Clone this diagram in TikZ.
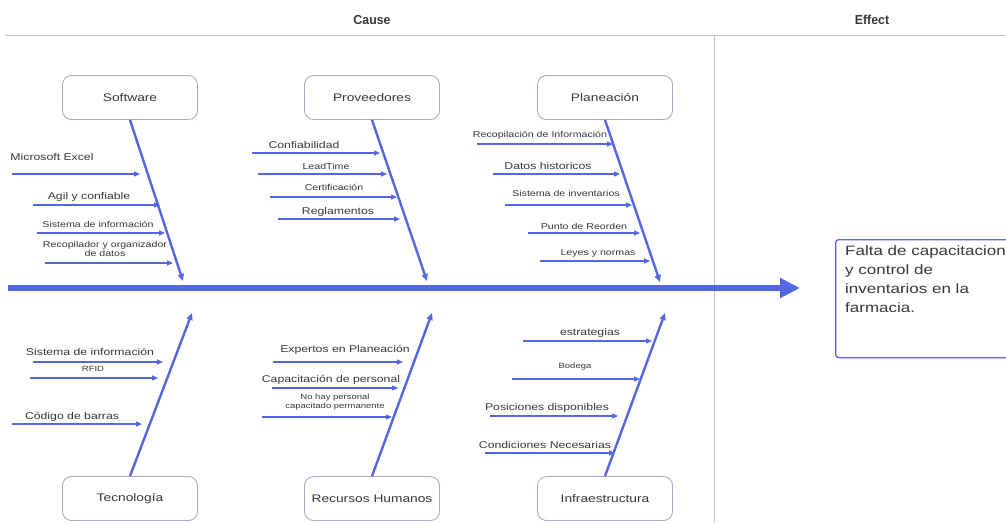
\documentclass[tikz,border=0pt]{standalone}
\usepackage{fontspec}
\usepackage{tikz}
\usetikzlibrary{arrows.meta}

\newfontfamily\lblfont[FakeStretch=1.25]{Liberation Sans}
\newfontfamily\headfont[FakeStretch=0.95]{Liberation Sans}

\definecolor{fish}{RGB}{84,102,224}
\definecolor{boxline}{RGB}{168,172,198}
\definecolor{rulegray}{RGB}{192,194,208}
\definecolor{ink}{RGB}{55,55,60}

\tikzset{
  lbl/.style={font=\lblfont\fontsize{9.8}{10}\selectfont, text=ink, inner sep=0pt},
  lbls/.style={font=\lblfont\fontsize{8.5}{9}\selectfont, text=ink, inner sep=0pt, align=center},
  lblt/.style={font=\lblfont\fontsize{7.6}{8.6}\selectfont, text=ink, inner sep=0pt, align=center},
  cat/.style={draw=boxline, line width=0.9pt, rounded corners=9pt, minimum width=135pt, minimum height=44pt, font=\lblfont\fontsize{11}{13}\selectfont, text=ink},
  sub/.style={draw=fish, line width=1.3pt, -{Triangle[length=6pt, width=5pt]}},
  bone/.style={draw=fish, line width=2.4pt, -{Triangle[length=7pt, width=6pt]}},
  head/.style={font=\headfont\bfseries\fontsize{13}{15}\selectfont, text=ink}
}

\begin{document}
\begin{tikzpicture}[x=1pt, y=-1pt]
\useasboundingbox (0, 0) rectangle (1006, 523);

\draw[rulegray, line width=1pt] (5, 35) -- (1006, 35);
\draw[rulegray, line width=1pt] (714, 35) -- (714, 523);
\node[head] (cause) at (372, 20) {Cause};
\node[head] (effect) at (872, 20) {Effect};

\node[cat] (soft) at (130, 97.5) {Software};
\node[cat] (prov) at (372, 97.5) {Proveedores};
\node[cat] (plan) at (605, 97.5) {Planeación};
\node[cat] (tec) at (130, 498.5) {Tecnología};
\node[cat] (rh) at (372, 498.5) {Recursos Humanos};
\node[cat] (infra) at (605, 498.5) {Infraestructura};

\node[draw=fish, line width=1.3pt, rounded corners=3pt, minimum width=240pt, minimum height=118pt, anchor=north west] (eff) at (835, 239) {};
\node[font=\lblfont\fontsize{13.6}{19}\selectfont, text=ink, align=left, inner sep=0pt, anchor=north west] (efftxt) at (845, 245) {Falta de capacitacion\\y control de\\inventarios en la\\farmacia.};

\coordinate (tail) at (8, 288);
\coordinate (tip) at (800, 288);
\draw[fish, line width=5.5pt, -{Triangle[length=20pt, width=19pt]}] (tail) -- (tip);

\coordinate (softend) at (183, 281);
\coordinate (provend) at (427, 281);
\coordinate (planend) at (660, 282);
\coordinate (tecend) at (192, 313);
\coordinate (rhend) at (432, 313);
\coordinate (infraend) at (665, 313);
\draw[bone] (soft.south) -- (softend);
\draw[bone] (prov.south) -- (provend);
\draw[bone] (plan.south) -- (planend);
\draw[bone] (tec.north) -- (tecend);
\draw[bone] (rh.north) -- (rhend);
\draw[bone] (infra.north) -- (infraend);

\node[lbl] (sw1) at (52, 157) {Microsoft Excel};
\node[lbl] (sw2) at (89, 197) {Agil y confiable};
\node[lbls] (sw3) at (98, 224) {Sistema de información};
\node[lbls] (sw4) at (105, 249) {Recopilador y organizador\\de datos};
\coordinate (sw1a) at (12, 174); \coordinate (sw1b) at (140, 174);
\coordinate (sw2a) at (33, 205); \coordinate (sw2b) at (160, 205);
\coordinate (sw3a) at (37, 233); \coordinate (sw3b) at (165, 233);
\coordinate (sw4a) at (45, 263); \coordinate (sw4b) at (173, 263);
\draw[sub] (sw1a) -- (sw1b);
\draw[sub] (sw2a) -- (sw2b);
\draw[sub] (sw3a) -- (sw3b);
\draw[sub] (sw4a) -- (sw4b);

\node[lbl] (pv1) at (304, 145) {Confiabilidad};
\node[lbls] (pv2) at (326, 166) {LeadTime};
\node[lbls] (pv3) at (334, 187) {Certificación};
\node[lbl] (pv4) at (338, 212) {Reglamentos};
\coordinate (pv1a) at (252, 153); \coordinate (pv1b) at (380, 153);
\coordinate (pv2a) at (258, 174); \coordinate (pv2b) at (387, 174);
\coordinate (pv3a) at (270, 197); \coordinate (pv3b) at (397, 197);
\coordinate (pv4a) at (278, 219); \coordinate (pv4b) at (400, 219);
\draw[sub] (pv1a) -- (pv1b);
\draw[sub] (pv2a) -- (pv2b);
\draw[sub] (pv3a) -- (pv3b);
\draw[sub] (pv4a) -- (pv4b);

\node[lbls] (pl1) at (540, 135) {Recopilación de Información};
\node[lbl] (pl2) at (548, 166) {Datos historicos};
\node[lbls] (pl3) at (566, 193) {Sistema de inventarios};
\node[lbls] (pl4) at (584, 226) {Punto de Reorden};
\node[lbls] (pl5) at (598, 253) {Leyes y normas};
\coordinate (pl1a) at (477, 144); \coordinate (pl1b) at (613, 144);
\coordinate (pl2a) at (493, 174); \coordinate (pl2b) at (620, 174);
\coordinate (pl3a) at (505, 205); \coordinate (pl3b) at (632, 205);
\coordinate (pl4a) at (528, 233); \coordinate (pl4b) at (640, 233);
\coordinate (pl5a) at (540, 261); \coordinate (pl5b) at (650, 261);
\draw[sub] (pl1a) -- (pl1b);
\draw[sub] (pl2a) -- (pl2b);
\draw[sub] (pl3a) -- (pl3b);
\draw[sub] (pl4a) -- (pl4b);
\draw[sub] (pl5a) -- (pl5b);

\node[lbl] (tc1) at (90, 352) {Sistema de información};
\node[lblt] (tc2) at (93, 369) {RFID};
\node[lbl] (tc3) at (72, 417) {Código de barras};
\coordinate (tc1a) at (33, 362); \coordinate (tc1b) at (163, 362);
\coordinate (tc2a) at (30, 378); \coordinate (tc2b) at (158, 378);
\coordinate (tc3a) at (12, 424); \coordinate (tc3b) at (142, 424);
\draw[sub] (tc1a) -- (tc1b);
\draw[sub] (tc2a) -- (tc2b);
\draw[sub] (tc3a) -- (tc3b);

\node[lbl] (rh1) at (345, 350) {Expertos en Planeación};
\node[lbl] (rh2) at (331, 380) {Capacitación de personal};
\node[lblt] (rh3) at (335, 402) {No hay personal\\capacitado permanente};
\coordinate (rh1a) at (273, 362); \coordinate (rh1b) at (403, 362);
\coordinate (rh2a) at (272, 388); \coordinate (rh2b) at (398, 388);
\coordinate (rh3a) at (262, 417); \coordinate (rh3b) at (392, 417);
\draw[sub] (rh1a) -- (rh1b);
\draw[sub] (rh2a) -- (rh2b);
\draw[sub] (rh3a) -- (rh3b);

\node[lbl] (in1) at (590, 333) {estrategias};
\node[lblt] (in2) at (575, 367) {Bodega};
\node[lbl] (in3) at (547, 408) {Posiciones disponibles};
\node[lbl] (in4) at (545, 445) {Condiciones Necesarias};
\coordinate (in1a) at (523, 341); \coordinate (in1b) at (652, 341);
\coordinate (in2a) at (512, 379); \coordinate (in2b) at (640, 379);
\coordinate (in3a) at (490, 416); \coordinate (in3b) at (618, 416);
\coordinate (in4a) at (485, 453); \coordinate (in4b) at (615, 453);
\draw[sub] (in1a) -- (in1b);
\draw[sub] (in2a) -- (in2b);
\draw[sub] (in3a) -- (in3b);
\draw[sub] (in4a) -- (in4b);

\end{tikzpicture}
\end{document}
